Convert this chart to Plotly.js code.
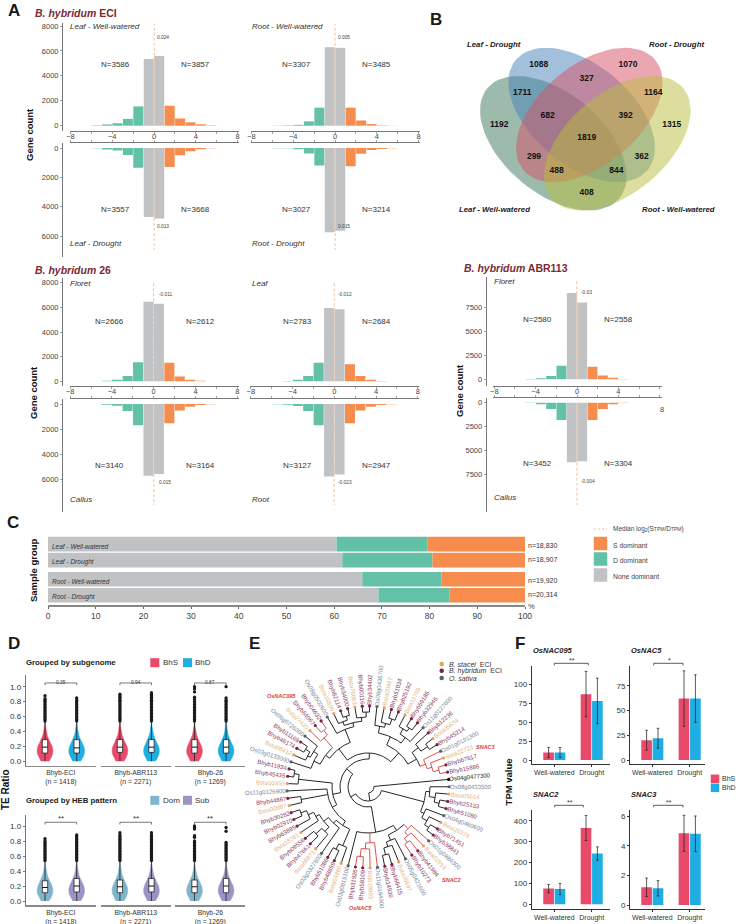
<!DOCTYPE html>
<html><head><meta charset="utf-8">
<script src="https://cdn.plot.ly/plotly-3.0.1.min.js"></script>
<style>html,body{margin:0;padding:0;background:#fff}#c{width:736px;height:924px}</style></head>
<body><div id="c"></div>
<script>
// ---------- Panel A data ----------
const bins=[-5.5,-4.5,-3.5,-2.5,-1.5,-0.5,0.5,1.5,2.5,3.5,4.5,5.5];
const eciLeafWW=[30,100,200,550,1550,5350,5600,1600,580,270,110,30];
const eciLeafDr=[20,100,170,480,1350,4700,4800,1300,500,220,80,20];
const eciRootWW=[15,30,70,350,1450,6300,6250,1450,420,130,30,10];
const eciRootDr=[10,20,80,370,1200,5750,5650,1250,400,130,60,20];
const b26FloretV=[10,40,130,430,1550,6450,6300,1500,380,120,40,10];
const b26CallusV=[10,70,150,570,1700,5750,5600,1550,520,230,80,15];
const b26LeafV=[10,30,120,420,1500,5950,5850,1380,420,130,25,5];
const b26RootV=[15,70,170,570,1700,5800,5650,1550,520,230,80,15];
const abrFloretV=[5,20,100,350,1400,9000,8000,1300,400,170,30,5];
const abrCallusV=[10,40,150,650,1800,6200,6100,1800,650,170,40,10];
const medians={eciLeafWW:0.024,eciLeafDr:0.013,eciRootWW:0.005,eciRootDr:0.015,
  b26Floret:-0.011,b26Callus:0.015,b26Leaf:-0.012,b26Root:-0.023,abrFloret:-0.03,abrCallus:-0.004};
// ---------- Panel B data ----------
const vennCounts=[1088,1070,327,1711,1164,1192,682,392,1315,1819,299,362,488,844,408];
// ---------- Panel C data ----------
const sampleGroups=['Leaf - Well-watered','Leaf - Drought','Root - Well-watered','Root - Drought'];
const noneDominant=[60.5,61.7,65.9,69.3];
const dDominant=[19.0,18.9,16.6,14.9];
const sDominant=[20.5,19.4,17.5,15.8];
const sampleN=['n=18,830','n=18,907','n=19,920','n=20,314'];
// ---------- Panel D data ----------
const violinY=[0,0.05,0.1,0.15,0.2,0.25,0.3,0.35,0.4,0.45,0.5,0.6,0.72];
const violinW=[0.5,0.78,0.96,1,0.9,0.68,0.45,0.28,0.17,0.1,0.05,0.02,0];
const tailDots=[0.54,0.56,0.58,0.6,0.62,0.64,0.66,0.68,0.7,0.72,0.74,0.76,0.78];
const genomeNames=['Bhyb-ECI<br>(n = 1418)','Bhyb-ABR113<br>(n = 2271)','Bhyb-26<br>(n = 1269)'];
const subBox=[[.11,.19,.29,.55],[.11,.18,.29,.55],[.12,.19,.29,.55],[.12,.19,.29,.55],[.11,.19,.29,.55],[.11,.19,.29,.55]];
const hebBox=[[.11,.18,.27,.52],[.12,.2,.3,.58],[.11,.19,.28,.55],[.12,.2,.3,.58],[.11,.19,.28,.55],[.11,.2,.3,.58]];
const subExtra=[[.8,.82,.84,.88],[.8,.82,.85],[.8,.82,.84,.86,.88,.9],[.8,.82,.84,.86,.88,.9,.92],[.8,.83,.86,.93,.97,1],[.8,.82,.85,1]];
const hebExtra=[[.8,.83],[.8,.82,.84,.86,.88],[.8,.82,.84,.86,.88,.91],[.8,.82,.84,.86,.88,.91],[.8,.85,.87,.96,.98,1],[.93,.98]];
const subP=['0.35','0.94','0.87'];
const hebP=['**','**','**'];
// ---------- Panel E data (radius first; negative radius = red clade) ----------
const treeB=[58,[62,'Os08g0433500',[68,'Bsta05514',[73,'Bhyb25133','Bhyb51080']]],[62,'Os04g0460600',[68,'Bsta20274',[73,'Bhyb71451','Bhyb38841']]]];
const treeBottom=[46,
  [52,[-58,'Os01g0884300',[-63,'Bsta02914',[-68,'Bhyb41984','Bhyb10273']]],[58,'Os05g0421600',[63,'Bsta05697',[70,'Bhyb66415','Bhyb14936']]]],
  [-56,'Os11g0184900',[-62,'Bsta18903',[-70,'Bhyb58109','Bhyb31926']]],
  'Os03g0815100'];
const treeLeft=[36,
  [41,[46,[64,'Bsta04860',[70,'Bhyb48659','Bhyb51086']],
      [50,'Os03g0327800',[56,[62,'Bsta08873',[70,'Bhyb47661','Bhyb09556']],[60,'Bsta18281',[66,'Bhyb63885',[72,'Bhyb02910','Bhyb30282']]]]]],
     [68,'Bsta00987','Bhyb44867'],'Os11g0126900'],
  [70,'Bsta00358',[75,'Bhyb45435','Bhyb11934']]];
const treeUpLeft=[48,[53,[60,'Os03g0133000',[65,[68,'Bsta08412',[73,'Bhyb46174','Bhyb11169']],'Os06g0726300']],
     [-60,[-66,'Bsta27420',[-72,'Bhyb64067','Bhyb04632']]]],
  [62,'Os08g0502600',[66,[70,'Bsta16805',[74,'Bhyb82114','Bhyb34000']],[70,'Bsta76863',[75,'Bhyb00116','Bhyb34402']]]]];
const treeUpRight=[46,
  [55,[62,'Os08g0436700',[66,'Bsta00467',[72,'Bhyb51034','Bhyb25192']]],[62,[68,'Bsta11769',[72,'Bhyb59185','Bhyb32946']],'Os11g0127600']],
  [56,[64,'Bhyb12236',[72,'Bsta05634','Bhyb45214']],[-62,'Os01g0191300',[-67,'Bsta22723',[-73,'Bhyb67617','Bhyb15886']]]]];
const tree=[6,'Os04g0477300',[14,treeB,[20,treeBottom,[28,treeLeft,[34,treeUpLeft,treeUpRight]]]]];
// ---------- Panel F data ----------
const fGroups=['Well-watered','Drought'];
const nac095S=[10,87],nac095D=[10,78],nac095SE=[6.5,30],nac095DE=[6.5,30];
const nac5S=[20,62],nac5D=[22,62],nac5SE=[10,28],nac5DE=[10,24];
const snac2S=[75,365],snac2D=[73,243],snac2SE=[20,60],snac2DE=[27,32];
const snac3S=[1.2,4.85],snac3D=[1.13,4.82],snac3SE=[.62,1.22],snac3DE=[.52,1.2];

// ---------- colours ----------
const W=736,H=924,FONT='"Liberation Sans",Arial,sans-serif';
const GREEN='#62C1A6',ORANGE='#F68C4D',GRAY='#C1C2C4',DASH='#F3C39C',RED='#EA4A6A',BLUE='#1FAEE3',DOM='#80B4CB',SUB='#9B95C6';
const traces=[],annotations=[];
const layout={width:W,height:H,margin:{l:0,r:0,t:0,b:0},paper_bgcolor:'#fff',plot_bgcolor:'rgba(0,0,0,0)',
  showlegend:false,barmode:'overlay',font:{family:FONT,color:'#333'},
  xaxis:{range:[0,W],domain:[0,1],visible:false,fixedrange:true},
  yaxis:{range:[H,0],domain:[0,1],visible:false,fixedrange:true},annotations};
let axN=1;
function addX(cfg){axN++;layout['xaxis'+axN]=Object.assign({fixedrange:true,showgrid:false,zeroline:false},cfg);return axN;}
function addAxes(xc,yc){axN++;const n=axN;
  layout['xaxis'+n]=Object.assign({fixedrange:true,showgrid:false,zeroline:false,anchor:'y'+n},xc);
  layout['yaxis'+n]=Object.assign({fixedrange:true,showgrid:false,zeroline:false,anchor:'x'+n},yc);
  return n;}
const dx=(a,b)=>[a/W,b/W], dy=(t,b)=>[1-b/H,1-t/H];
function ann(text,x,y,o={}){annotations.push(Object.assign({text,x,y,xref:'x',yref:'y',showarrow:false,xanchor:'center',yanchor:'middle',
  font:{size:o.size||8,color:o.color||'#333',family:FONT},borderpad:0},o.extra||{},o.anchor?{xanchor:o.anchor}:{},o.angle!==undefined?{textangle:o.angle}:{}));}

// ---------- Panel A ----------
function hist(c,u,up,dTop,dBot,y0,yR,vR,vals,med,yLine,ticks,dashEnd,labelVals){
  const ppv=Math.abs(y0-yR)/vR;
  const range=up?[(y0-dBot)/ppv,(y0-dTop)/ppv]:[(dBot-y0)/ppv,(dTop-y0)/ppv];
  const dashV=up?(y0-dashEnd)/ppv:(dashEnd-y0)/ppv;
  const lv=labelVals||[-8,-4,0,4,8];
  const n=addAxes({domain:dx(c-84,c+85),range:[-84/u,85/u],side:up?'bottom':'top',showline:true,linecolor:'#777',linewidth:1,
      ticks:'outside',ticklen:2,tickcolor:'#777',tickwidth:.7,tickvals:lv,ticktext:lv.map(v=>v<0?'−'+(-v):String(v)),
      minor:{tickvals:[-6,-2,2,6].concat(labelVals?[8]:[]),ticks:'outside',ticklen:2,tickcolor:'#777',tickwidth:.7,showgrid:false},
      showticklabels:up,ticklabelstandoff:-4,tickfont:{size:7.5,color:'#444'}},
    yLine===null?{domain:dy(dTop,dBot),range,visible:false}:
    {domain:dy(dTop,dBot),range,anchor:'free',position:yLine/W,showline:true,linecolor:'#777',linewidth:1.1,ticks:'outside',ticklen:2,
      tickcolor:'#777',tickwidth:.7,tickvals:ticks,tickfont:{size:7.5,color:'#444'},tickformat:'d'});
  traces.push({type:'bar',x:bins,y:vals,xaxis:'x'+n,yaxis:'y'+n,width:.96,
    marker:{color:bins.map(b=>b<-1?GREEN:b>1?ORANGE:GRAY),line:{width:0}},hoverinfo:'skip'});
  traces.push({type:'scatter',mode:'lines',x:[med,med],y:[0,dashV],xaxis:'x'+n,yaxis:'y'+n,cliponaxis:false,
    line:{color:DASH,width:1,dash:'3px,2px'},hoverinfo:'skip'});
}
const t8=[0,2000,4000,6000,8000],t6=[0,2000,4000,6000],t75=[0,2500,5000,7500];
hist(154,10.44,true,23,131,125.7,26,8000,eciLeafWW,medians.eciLeafWW,62,t8,24);
hist(154,10.44,false,143.3,257,148,236,6000,eciLeafDr,medians.eciLeafDr,62,t6,250);
hist(335,10.44,true,23,131,125.7,26,8000,eciRootWW,medians.eciRootWW,null,t8,24);
hist(335,10.44,false,143.3,257,148,236,6000,eciRootDr,medians.eciRootDr,null,t6,250);
hist(153.7,10.44,true,278,386.3,381.3,282.7,8000,b26FloretV,medians.b26Floret,62,t8,281);
hist(153.7,10.44,false,399,512,404,479,6000,b26CallusV,medians.b26Callus,62,t6,505);
hist(334.3,10.44,true,278,386.3,381.3,282.7,8000,b26LeafV,medians.b26Leaf,null,t8,281);
hist(334.3,10.44,false,399,512,404,479,6000,b26RootV,medians.b26Root,null,t6,505);
hist(577,10.34,true,277,385.7,379.3,307.3,7500,abrFloretV,medians.abrFloret,485.7,t75,280,[-8,-4,0,4]);
hist(577,10.34,false,397.7,512,402.7,474.7,7500,abrCallusV,medians.abrCallus,485.7,t75,505);

function title(html,x,y){ann(html,x,y,{size:10.5,color:'#7B2A35',anchor:'left'});}
title('<b><i>B. hybridum</i> ECI</b>',34,13);
title('<b><i>B. hybridum</i> 26</b>',34,270);
title('<b><i>B. hybridum</i> ABR113</b>',462.5,268);
function panelLetter(l,x,y){ann('<b>'+l+'</b>',x,y,{size:17,color:'#1a1a1a'});}
panelLetter('A',14,10);panelLetter('B',436,19);panelLetter('C',13,522);panelLetter('D',14,643);panelLetter('E',254,643);panelLetter('F',520,643);
const gc=(x,y)=>ann('<b>Gene count</b>',x,y,{size:9.5,color:'#111',angle:-90});
gc(29,135);gc(33,393);gc(459,391);
const it=(t,x,y)=>ann('<i>'+t+'</i>',x,y,{size:8,anchor:'left',color:'#333'});
const nn=(t,x,y)=>ann('N='+t,x,y,{size:8,color:'#333'});
const md=(t,x,y)=>ann(String(t),x,y,{size:4.8,anchor:'left',color:'#444'});
it('Leaf - Well-watered',69,26.7);it('Root - Well-watered',250.7,26.7);it('Leaf - Drought',69,243);it('Root - Drought',250.7,243);
nn(3586,115,64.7);nn(3857,195,64.7);nn(3557,115,209);nn(3668,195,209);
nn(3307,296,64.7);nn(3485,376,64.7);nn(3027,296,209);nn(3214,376,209);
md('0.024',156,37.7);md('0.013',156,226);md('0.005',337,37.7);md('0.015',337,226);
it('Floret',69,283);it('Leaf',250.7,283);it('Callus',69,499.3);it('Root',250.7,499.3);
nn(2666,109,321);nn(2612,200,321);nn(3140,109,465);nn(3164,200,465);
nn(2783,297,321);nn(2684,376,321);nn(3127,297,465);nn(2947,376,465);
md('-0.011',158,294);md('0.015',158,482.7);md('-0.012',337,294);md('-0.023',337,482.7);
it('Floret',493.3,281.7);it('Callus',493.3,497.7);
nn(2580,537,319);nn(2558,618.3,319);nn(3452,537,463.3);nn(3304,618.3,463.3);
md('-0.03',580,292.3);md('-0.004',580,481);
ann('8',661.7,409,{size:7.5,color:'#444'});

// ---------- Panel B ----------
function ellipse(cx,cy,a,b,deg,color){
  const xs=[],ys=[],t=deg*Math.PI/180;
  for(let i=0;i<=72;i++){const p=i*5*Math.PI/180,u=a*Math.cos(p),v=b*Math.sin(p);
    xs.push(cx+u*Math.cos(t)-v*Math.sin(t));ys.push(cy+u*Math.sin(t)+v*Math.cos(t));}
  traces.push({type:'scatter',mode:'lines',x:xs,y:ys,fill:'toself',fillcolor:color,line:{width:0},hoverinfo:'skip'});
}
ellipse(553.3,143.3,86,50,40,'rgba(60,120,90,.5)');
ellipse(581.7,115,86,50,40,'rgba(70,130,185,.5)');
ellipse(589.3,115,86,50,-40,'rgba(215,80,100,.5)');
ellipse(617.3,143.3,86,50,-40,'rgba(185,190,60,.5)');
const vennX=[538.7,628,586.7,522.3,653.3,499.3,547.7,625.7,671.7,586.7,534,641.7,556.7,616.3,586.7];
const vennYp=[65,65,78.7,92.7,92.7,125,115.7,115.7,125,138.3,156.7,156.7,170.7,170.7,193.3];
traces.push({type:'scatter',mode:'text',x:vennX,y:vennYp,text:vennCounts.map(String),textposition:'middle center',
  textfont:{size:8.5,color:'#111',family:FONT,weight:700},hoverinfo:'skip'});
const vn=(t,x,y)=>ann('<b><i>'+t+'</i></b>',x,y,{size:7.8,color:'#222'});
vn('Leaf - Drought',494.3,44.7);vn('Root - Drought',676.7,44.7);vn('Leaf - Well-watered',494,209.7);vn('Root - Well-watered',678,209.7);

// ---------- Panel C ----------
const cY=[0,1,2.2,3.2];
const cn=addAxes({domain:dx(48,525),range:[0,100],showline:true,linecolor:'#888',linewidth:1.6,ticks:'outside',ticklen:2,tickcolor:'#666',
    tickvals:[0,10,20,30,40,50,60,70,80,90,100],tickfont:{size:8.5,color:'#444'}},
  {domain:dy(533,605),range:[3.81,-0.69],visible:false});
function stack(vals,base,color){traces.push({type:'bar',orientation:'h',x:vals,y:cY,base,width:.92,xaxis:'x'+cn,yaxis:'y'+cn,marker:{color,line:{width:0}},hoverinfo:'skip'});}
stack(noneDominant,[0,0,0,0],GRAY);
stack(dDominant,noneDominant,GREEN);
stack(sDominant,noneDominant.map((v,i)=>v+dDominant[i]),ORANGE);
[546.7,561.7,581.7,596.7].forEach((y,i)=>ann('<i>'+sampleGroups[i]+'</i>',50.5,y,{size:6.5,anchor:'left',color:'#333'}));
[545,559.7,580,594.7].forEach((y,i)=>ann(sampleN[i],527,y,{size:7,anchor:'left',color:'#333'}));
ann('%',531,606,{size:7.5,color:'#444'});
ann('<b>Sample group</b>',33,570,{size:9.5,color:'#111',angle:-90});
traces.push({type:'scatter',mode:'lines',x:[594,607],y:[529,529],line:{color:DASH,width:1,dash:'2px,2px'},hoverinfo:'skip'});
traces.push({type:'scatter',mode:'markers',x:[600.5,600.5,600.5],y:[543.5,559,575],marker:{symbol:'square',size:13.5,color:[ORANGE,GREEN,GRAY]},hoverinfo:'skip'});
ann('Median log<sub>2</sub>(S<span style="font-size:5px">TPM</span>/D<span style="font-size:5px">TPM</span>)',612,529,{size:6.5,anchor:'left',color:'#444'});
ann('S dominant',612,545,{size:6.8,anchor:'left',color:'#444'});
ann('D dominant',612,560.7,{size:6.8,anchor:'left',color:'#444'});
ann('None dominant',612,576.7,{size:6.8,anchor:'left',color:'#444'});

// ---------- Panel D ----------
function violinRow(y0,y1,axTop,axBot,boxes,extras,colors,pvals,bigP){
  const ppv=(y0-y1);
  const range=[(y0-axBot)/ppv,(y0-axTop)/ppv];
  const segs=[[25.7,96],[100.7,170.7],[175.3,245.3]];
  let yId=null;
  segs.forEach((s,k)=>{
    let n;
    if(k===0){
      n=addAxes({domain:dx(s[0],s[1]),range:[.39,2.61],showline:true,linecolor:'#8a8a8a',linewidth:1.5,ticks:'',tickvals:[1.5],ticktext:[genomeNames[k]],tickfont:{size:6.8,color:'#333'}},
        {domain:dy(axTop,axBot),range,showline:true,linecolor:'#777',linewidth:1,ticks:'outside',ticklen:2,tickcolor:'#777',tickvals:[0,.2,.4,.6,.8,1],ticktext:['0.0','0.2','0.4','0.6','0.8','1.0'],tickfont:{size:8,color:'#333'}});
      yId=n;
    } else {
      n=addX({domain:dx(s[0],s[1]),range:[.39,2.61],anchor:'y'+yId,showline:true,linecolor:'#8a8a8a',linewidth:1.5,ticks:'',tickvals:[1.5],ticktext:[genomeNames[k]],tickfont:{size:6.8,color:'#333'}});
    }
    [0,1].forEach(j=>{
      const pos=j+1,b=boxes[k*2+j],col=colors[j],hw=.25,bw=.085;
      const xr='x'+n,yr='y'+yId;
      traces.push({type:'scatter',mode:'lines',xaxis:xr,yaxis:yr,fill:'toself',fillcolor:col,line:{color:col,width:.5},
        x:violinW.map(w=>pos-w*hw).concat(violinW.map(w=>pos+w*hw).reverse()),
        y:violinY.concat(violinY.slice().reverse()),hoverinfo:'skip'});
      traces.push({type:'scatter',mode:'markers',xaxis:xr,yaxis:yr,x:tailDots.concat(extras[k*2+j]).map(()=>pos),y:tailDots.concat(extras[k*2+j]),
        marker:{size:3.3,color:'#1a1a1a'},cliponaxis:false,hoverinfo:'skip'});
      // whisker, box and median read from the box arrays
      traces.push({type:'scatter',mode:'lines',xaxis:xr,yaxis:yr,x:[pos,pos],y:[0,b[3]],line:{color:'#222',width:.8},hoverinfo:'skip'});
      traces.push({type:'scatter',mode:'lines',xaxis:xr,yaxis:yr,x:[pos-bw,pos+bw,pos+bw,pos-bw,pos-bw],y:[b[0],b[0],b[2],b[2],b[0]],
        fill:'toself',fillcolor:'#fff',line:{color:'#222',width:.8},hoverinfo:'skip'});
      traces.push({type:'scatter',mode:'lines',xaxis:xr,yaxis:yr,x:[pos-bw,pos+bw],y:[b[1],b[1]],line:{color:'#111',width:1},hoverinfo:'skip'});
    });
    traces.push({type:'scatter',mode:'lines',xaxis:'x'+n,yaxis:'y'+yId,x:[1,1,2,2],y:[1.02,1.05,1.05,1.02],line:{color:'#555',width:.8},hoverinfo:'skip',cliponaxis:false});
    const px=[60.8,135.5,210.2][k];
    ann(pvals[k],px,y1-(bigP?8:4.2),{size:bigP?8:4.8,color:'#333'});
  });
}
violinRow(761.3,686.7,675,765.7,subBox,subExtra,[RED,BLUE],subP,false);
violinRow(901,826,815,905.3,hebBox,hebExtra,[DOM,SUB],hebP,true);
ann('<b>Grouped by subgenome</b>',25,662.7,{size:7.8,anchor:'left',color:'#222'});
ann('<b>Grouped by HEB pattern</b>',25,800.3,{size:7.8,anchor:'left',color:'#222'});
traces.push({type:'scatter',mode:'markers',x:[154.8,187.5,154.8,187.5],y:[662.7,662.7,800.3,800.3],marker:{symbol:'square',size:9,color:[RED,BLUE,DOM,SUB]},hoverinfo:'skip'});
ann('BhS',161.7,662.7,{size:8,anchor:'left',color:'#333'});ann('BhD',193.7,662.7,{size:8,anchor:'left',color:'#333'});
ann('Dom',161.7,800.3,{size:8,anchor:'left',color:'#333'});ann('Sub',193.7,800.3,{size:8,anchor:'left',color:'#333'});
ann('<b>TE Ratio</b>',5,790,{size:10,color:'#111',angle:-90});

// ---------- Panel E ----------
const CX=368,CY=787,TIP=81,STEP=360/69,START=84.6;
let leafIdx=0;const blackX=[],blackY=[],redX=[],redY=[],tips=[];
function pol(r,a){const t=a*Math.PI/180;return [CX+r*Math.sin(t),CY-r*Math.cos(t)];}
function seg(red,pts){const X=red?redX:blackX,Y=red?redY:blackY;pts.forEach(p=>{X.push(p[0]);Y.push(p[1]);});X.push(null);Y.push(null);}
function walk(node,parentR,parentRed){
  if(typeof node==='string'){
    const a=START+STEP*(leafIdx++);tips.push({name:node,a});
    seg(parentRed,[pol(parentR,a),pol(TIP,a)]);return a;
  }
  const red=node[0]<0,r=Math.abs(node[0]);
  const angs=node.slice(1).map(ch=>walk(ch,r,red));
  const a0=angs[0],a1=angs[angs.length-1],mid=(a0+a1)/2;
  const arc=[];for(let k=0;k<=16;k++)arc.push(pol(r,a0+(a1-a0)*k/16));
  seg(red,arc);
  if(parentR!==null)seg(red,[pol(parentR,mid),pol(r,mid)]);
  return mid;
}
walk(tree,null,false);
traces.push({type:'scatter',mode:'lines',x:blackX,y:blackY,line:{color:'#262626',width:1},hoverinfo:'skip'});
traces.push({type:'scatter',mode:'lines',x:redX,y:redY,line:{color:'#D9544F',width:1},hoverinfo:'skip'});
const spColor=n=>n==='Os04g0477300'?'#111':n.startsWith('Os')?'#4F6172':n.startsWith('Bsta')?'#DDA563':'#7D1F45';
const txtColor=n=>n==='Os04g0477300'?'#111':n.startsWith('Os')?'#7B8796':n.startsWith('Bsta')?'#E4B584':'#8A3A60';
traces.push({type:'scatter',mode:'markers',x:tips.map(t=>pol(TIP,t.a)[0]),y:tips.map(t=>pol(TIP,t.a)[1]),
  marker:{size:3.2,color:tips.map(t=>spColor(t.name))},hoverinfo:'skip'});
tips.forEach(t=>{
  const len=t.name.length*3.1,p=pol(84+len/2,t.a),a=t.a%360;
  let ang=a<=180?a-90:a+90;if(ang>180)ang-=360;
  ann(t.name,p[0],p[1],{size:6,color:txtColor(t.name),angle:ang});
});
traces.push({type:'scatter',mode:'markers',x:[441.7,441.7,441.7],y:[664,670.7,678],marker:{size:4.5,color:['#DDA563','#7D1F45','#4F6172']},hoverinfo:'skip'});
ann('<i>B. stacei</i>  ECI',448,664,{size:7,anchor:'left',color:'#333'});
ann('<i>B. hybridum</i>  ECI',448,670.7,{size:7,anchor:'left',color:'#333'});
ann('<i>O. sativa</i>',448,678,{size:7,anchor:'left',color:'#333'});
const rl=(t,x,y)=>ann('<b><i>'+t+'</i></b>',x,y,{size:5.5,color:'#D9403F'});
rl('OsNAC095',281.7,696.3);rl('SNAC3',485,746.7);rl('SNAC2',451.7,880);rl('OsNAC5',360,908.3);

// ---------- Panel F ----------
function barsF(left,right,c1,c2,axTop,axBot,y0,yR,vR,ticks,S,D,SE,DE,name,brY,br1,br2,star){
  const u=c2-c1,ppv=(y0-yR)/vR;
  const n=addAxes({domain:dx(left,right),range:[1-(c1-left)/u,2+(right-c2)/u],showline:true,linecolor:'#333',linewidth:1,ticks:'outside',ticklen:2,
      tickcolor:'#333',tickvals:[1,2],ticktext:fGroups,tickfont:{size:7,color:'#333'}},
    {domain:dy(axTop,axBot),range:[(y0-axBot)/ppv,(y0-axTop)/ppv],showline:true,linecolor:'#333',linewidth:1,ticks:'outside',ticklen:2,tickcolor:'#333',tickvals:ticks,tickfont:{size:8,color:'#333'}});
  const e=arr=>({type:'data',array:arr,visible:true,color:'rgba(35,35,35,.75)',thickness:1,width:1.3});
  traces.push({type:'bar',x:[1,2],y:S,width:.285,offset:-.295,xaxis:'x'+n,yaxis:'y'+n,marker:{color:RED},error_y:e(SE),hoverinfo:'skip'});
  traces.push({type:'bar',x:[1,2],y:D,width:.285,offset:.01,xaxis:'x'+n,yaxis:'y'+n,marker:{color:BLUE},error_y:e(DE),hoverinfo:'skip'});
  ann('<b><i>'+name+'</i></b>',left,axTop-(axTop<700?15.7:16.3),{size:7.5,anchor:'left',color:'#222'});
  traces.push({type:'scatter',mode:'lines',x:[br1,br1,br2,br2],y:[brY+2,brY,brY,brY+2],line:{color:'#333',width:.8},hoverinfo:'skip'});
  ann(star,(br1+br2)/2+1,brY-3,{size:7,color:'#333'});
}
barsF(531.7,610,554.3,591.7,665.7,764,760,684.3,100,[0,25,50,75,100],nac095S,nac095D,nac095SE,nac095DE,'OsNAC095',663.3,554.3,588.3,'**');
barsF(630,705,652.3,689.7,665.7,764,760,685.7,75,[0,25,50,75],nac5S,nac5D,nac5SE,nac5DE,'OsNAC5',663.3,653.7,683,'*');
barsF(531.7,610,554.3,591.7,810.3,909,904.3,820.7,400,[0,100,200,300,400],snac2S,snac2D,snac2SE,snac2DE,'SNAC2',805.3,554.7,583.3,'**');
barsF(630,705,652.3,689.7,810.3,909,905,816.3,6,[0,2,4,6],snac3S,snac3D,snac3SE,snac3DE,'SNAC3',805.3,653.7,683,'**');
traces.push({type:'scatter',mode:'markers',x:[715,715],y:[778.8,787.8],marker:{symbol:'square',size:8.5,color:[RED,BLUE]},hoverinfo:'skip'});
ann('BhS',721,778.8,{size:7,anchor:'left',color:'#333'});
ann('BhD',721,787.8,{size:7,anchor:'left',color:'#333'});
ann('<b>TPM value</b>',508.7,781.7,{size:9.5,color:'#111',angle:-90});

Plotly.newPlot('c',traces,layout,{displayModeBar:false,staticPlot:true});
</script></body></html>
